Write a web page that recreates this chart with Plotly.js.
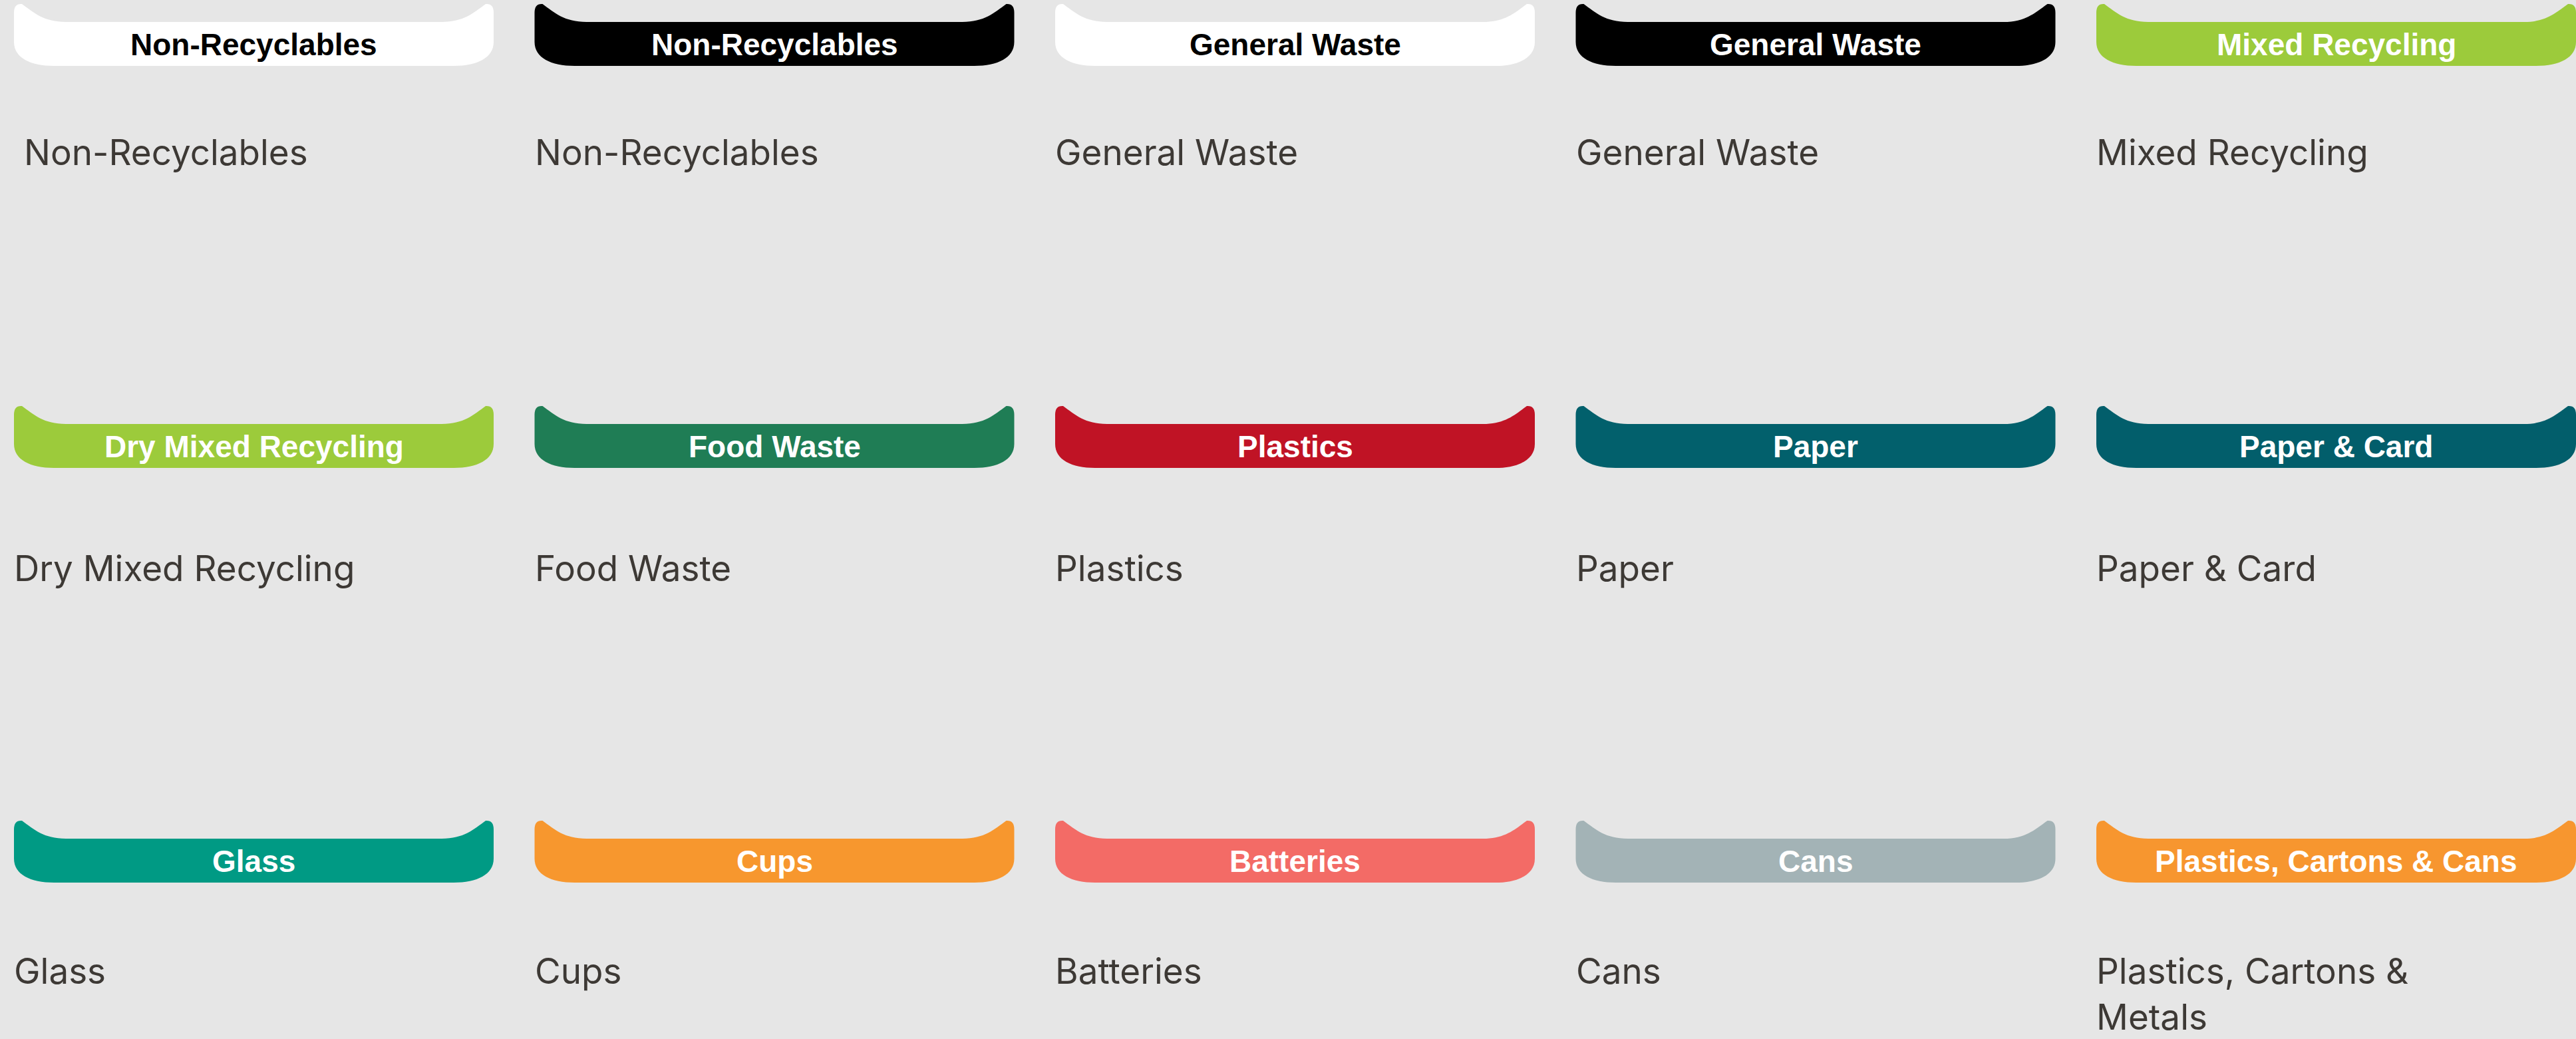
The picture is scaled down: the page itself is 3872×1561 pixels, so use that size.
<!DOCTYPE html>
<html>
<head>
<meta charset="utf-8">
<script src="https://cdn.plot.ly/plotly-3.0.1.min.js"></script>
<style>html,body{margin:0;padding:0;background:#e6e6e6;}#chart{width:3872px;height:1561px;}</style>
</head>
<body>
<div id="chart"></div>
<script>
// ---- data ----
const lidLabels = ["Non-Recyclables","Non-Recyclables","General Waste","General Waste","Mixed Recycling",
  "Dry Mixed Recycling","Food Waste","Plastics","Paper","Paper & Card",
  "Glass","Cups","Batteries","Cans","Plastics, Cartons & Cans"];
const lidColors = ["#ffffff","#000000","#ffffff","#000000","#9ccb3b",
  "#9ccb3b","#1f7d55","#c01325","#02606c","#025e6b",
  "#009a84","#f7972e","#f36b66","#a3b3b6","#f7962f"];
const lidTextColors = ["#000000","#ffffff","#000000","#ffffff","#ffffff",
  "#ffffff","#ffffff","#ffffff","#ffffff","#ffffff",
  "#ffffff","#ffffff","#ffffff","#ffffff","#ffffff"];
const binLabels = ["Non-Recyclables","Non-Recyclables","General Waste","General Waste","Mixed Recycling",
  "Dry Mixed Recycling","Food Waste","Plastics","Paper","Paper & Card",
  "Glass","Cups","Batteries","Cans","Plastics, Cartons &<br>Metals"];

// ---- layout constants ----
const W = 3872, H = 1561;
const nCols = 5;
const colX0 = 21, colPitch = 782.5, lidW = 721, lidH = 94;
const rowTop = [5, 609, 1232];
const labelCapTop = [209, 834, 1439];
const labelIndent = [[13,-2,-2,-2,-2],[-2,-2,-2,-2,-2],[-2,-2,-2,-2,-2]];

function lidPath(x, y) {
  const w = lidW, h = lidH;
  const p = (dx, dy) => (x + dx) + "," + (y + dy);
  return "M " + p(0,14) +
    " Q " + p(0,0) + " " + p(12,1) +
    " C " + p(30,14) + " " + p(45,28) + " " + p(78,28) +
    " L " + p(w-78,28) +
    " C " + p(w-45,28) + " " + p(w-30,14) + " " + p(w-12,1) +
    " Q " + p(w,0) + " " + p(w,14) +
    " L " + p(w,h-36) +
    " C " + p(w,h-12) + " " + p(w-25,h) + " " + p(w-60,h) +
    " L " + p(60,h) +
    " C " + p(25,h) + " " + p(0,h-12) + " " + p(0,h-36) + " Z";
}

const shapes = [], annotations = [];
lidLabels.forEach((lab, i) => {
  const c = i % nCols, r = Math.floor(i / nCols);
  const x = colX0 + c * colPitch, y = rowTop[r];
  shapes.push({type: "path", xref: "x", yref: "y", path: lidPath(x, y),
    fillcolor: lidColors[i], line: {width: 0}, layer: "below"});
  annotations.push({xref: "x", yref: "y", x: x + lidW / 2, y: y + 62,
    xanchor: "center", yanchor: "middle", showarrow: false, text: lab,
    font: {family: "Liberation Sans, Arial, sans-serif", size: 46, color: lidTextColors[i], weight: 700}});
  annotations.push({xref: "x", yref: "y", x: x + labelIndent[r][c], y: labelCapTop[r] - 14,
    xanchor: "left", yanchor: "top", align: "left", showarrow: false, text: binLabels[i],
    font: {family: "Inter, sans-serif", size: 53, color: "#3d3935"}});
});

const layout = {
  width: W, height: H,
  margin: {l: 0, r: 0, t: 0, b: 0, pad: 0},
  paper_bgcolor: "#e6e6e6", plot_bgcolor: "#e6e6e6",
  showlegend: false,
  xaxis: {range: [0, W], visible: false, fixedrange: true},
  yaxis: {range: [H, 0], visible: false, fixedrange: true},
  shapes: shapes, annotations: annotations
};
Plotly.newPlot("chart", [], layout, {staticPlot: true, displayModeBar: false});
</script>
</body>
</html>
